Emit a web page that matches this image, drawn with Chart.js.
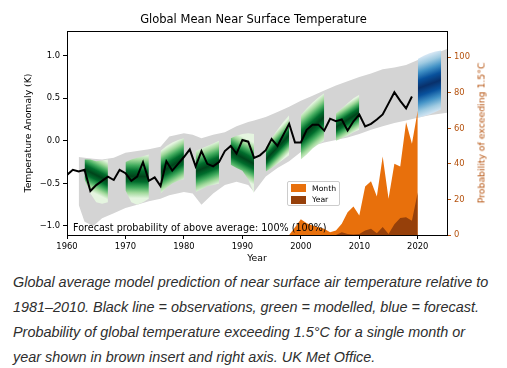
<!DOCTYPE html>
<html>
<head>
<meta charset="utf-8">
<script src="https://cdn.jsdelivr.net/npm/chart.js@4.4.1/dist/chart.umd.min.js"></script>
<style>
body { margin: 0; background: #fff; }
#wrap { position: relative; width: 507px; height: 368px; overflow: hidden; }
#myChart { position: absolute; left: 0; top: 0; }
.txt { position: absolute; font-family: 'DejaVu Sans', sans-serif; white-space: nowrap; }
#fcText { left: 73px; top: 222px; font-size: 9.6px; color: #000; }
#legend { position: absolute; left: 287px; top: 181px; width: 51px; height: 23px;
  border: 1px solid #ccc; border-radius: 2px; background: rgba(255,255,255,0.85); }
#legend .sw { position: absolute; left: 3px; width: 15px; height: 8px; }
#legend .lb { position: absolute; left: 24px; font-family: 'DejaVu Sans', sans-serif; font-size: 7.7px; line-height: 9px; }
#rTitle { left: 481px; top: 133px; font-size: 9.3px; color: #b5520e;
  transform: translate(-50%, -50%) rotate(-90deg); }
#caption { position: absolute; left: 13px; top: 270px; font-family: 'Liberation Sans', Arial, sans-serif;
  font-style: italic; font-size: 14.4px; line-height: 25px; color: #2e2e2e; white-space: nowrap; }
</style>
</head>
<body>
<div id="wrap">
  <canvas id="myChart" width="507" height="266"></canvas>
  <div id="fcText" class="txt">Forecast probability of above average: 100% (100%)</div>
  <div id="legend">
    <div class="sw" style="top:2px;background:#e8700c"></div><div class="lb" style="top:1.5px">Month</div>
    <div class="sw" style="top:13.5px;background:#96400a"></div><div class="lb" style="top:13px">Year</div>
  </div>
  <div id="rTitle" class="txt">Probability of exceeding 1.5°C</div>
  <div id="caption">Global average model prediction of near surface air temperature relative to<br>1981–2010. Black line = observations, green = modelled, blue = forecast.<br>Probability of global temperature exceeding 1.5°C for a single month or<br>year shown in brown insert and right axis. UK Met Office.</div>
</div>
<script>
// observed anomaly (K)
const obsYears = [1960, 1961, 1962, 1963, 1964, 1965, 1966, 1967, 1968, 1969,
  1970, 1971, 1972, 1973, 1974, 1975, 1976, 1977, 1978, 1979,
  1980, 1981, 1982, 1983, 1984, 1985, 1986, 1987, 1988, 1989,
  1990, 1991, 1992, 1993, 1994, 1995, 1996, 1997, 1998, 1999,
  2000, 2001, 2002, 2003, 2004, 2005, 2006, 2007, 2008, 2009,
  2010, 2011, 2012, 2013, 2014, 2015, 2016, 2017, 2018, 2019]
const obsAnom = [-0.40, -0.34, -0.36, -0.34, -0.59, -0.52, -0.47, -0.42, -0.46, -0.34,
  -0.38, -0.47, -0.42, -0.25, -0.47, -0.43, -0.53, -0.24, -0.35, -0.27,
  -0.19, -0.10, -0.30, -0.12, -0.27, -0.30, -0.25, -0.12, -0.06, -0.15,
  0.01, -0.01, -0.20, -0.17, -0.11, 0.02, -0.06, 0.07, 0.20, -0.02,
  -0.02, 0.13, 0.19, 0.19, 0.12, 0.26, 0.23, 0.25, 0.12, 0.23,
  0.31, 0.17, 0.20, 0.25, 0.31, 0.44, 0.57, 0.47, 0.38, 0.52]

// grey model plume
const plumeYears = [1962, 1963, 1964.5, 1966, 1968, 1970, 1972, 1974, 1976, 1977.5,
  1980, 1981.5, 1983, 1985, 1987, 1989, 1991, 1992, 1994, 1996,
  1998, 2000, 2002, 2004, 2006, 2008, 2010, 2012, 2014, 2016,
  2018, 2020, 2022, 2025]
const plumeHi = [-0.19, -0.20, -0.21, -0.22, -0.20, -0.14, -0.12, -0.10, -0.07, 0.05,
  0.09, 0.07, 0.03, 0.07, 0.10, 0.17, 0.22, 0.24, 0.28, 0.34,
  0.40, 0.47, 0.53, 0.59, 0.65, 0.70, 0.75, 0.79, 0.84, 0.86,
  0.89, 0.95, 1.00, 1.08]
const plumeLo = [-0.75, -0.95, -1.00, -0.91, -0.85, -0.79, -0.75, -0.71, -0.68, -0.64,
  -0.60, -0.62, -0.75, -0.62, -0.52, -0.48, -0.52, -0.60, -0.42, -0.32,
  -0.24, -0.13, -0.06, -0.02, 0.01, 0.04, 0.08, 0.13, 0.17, 0.21,
  0.24, 0.27, 0.30, 0.33]

// green hindcasts, 5 yearly values each
const hindStart = [1963, 1970, 1976, 1982, 1988, 1994, 2000, 2006]
const hindHi = [
  [-0.22, -0.22, -0.24, -0.23, -0.22],
  [-0.25, -0.22, -0.20, -0.18, -0.16],
  [-0.12, -0.06, -0.02, 0.01, 0.03],
  [-0.12, -0.09, -0.06, -0.03, 0.00],
  [0.03, 0.06, 0.08, 0.09, 0.08],
  [-0.08, 0.03, 0.13, 0.22, 0.30],
  [0.30, 0.38, 0.45, 0.51, 0.56],
  [0.32, 0.38, 0.44, 0.50, 0.54]
]
const hindLo = [
  [-0.45, -0.62, -0.72, -0.74, -0.72],
  [-0.58, -0.72, -0.75, -0.72, -0.68],
  [-0.62, -0.55, -0.50, -0.47, -0.45],
  [-0.60, -0.57, -0.53, -0.52, -0.50],
  [-0.28, -0.32, -0.35, -0.45, -0.62],
  [-0.36, -0.32, -0.27, -0.22, -0.17],
  [-0.22, -0.16, -0.09, -0.04, 0.00],
  [0.00, 0.03, 0.06, 0.10, 0.13]
]

// blue forecast
const fcStart = 2020
const fcHi = [0.96, 1.00, 1.03, 1.05, 1.06]
const fcLo = [0.27, 0.29, 0.31, 0.34, 0.37]

// probability of exceeding 1.5C (%)
const probYears = [1998, 1999, 2000, 2001, 2002, 2003, 2004, 2005, 2006, 2007,
  2008, 2009, 2010, 2011, 2012, 2013, 2014, 2015, 2016, 2017,
  2018, 2019, 2020]
const probMonth = [0, 4.4, 8.8, 6.6, 5.4, 4.4, 3.5, 1.6, 2.5, 6.3,
  12.8, 16, 11, 27.3, 30.3, 21.7, 44.2, 20.4, 40.1, 38.6,
  63.5, 51.4, 70]
const probYear = [0, 0, 0, 0, 0, 0, 0, 0, 0, 1.5,
  0.5, 0.3, 0.5, 2.5, 3.5, 1, 4.5, 0.5, 6, 9.5,
  10, 8, 24]

const leftTicks = [-1.0, -0.5, 0.0, 0.5, 1.0]

const greens = ['#e5f5e0', '#a1d99b', '#41ab5d', '#006d2c', '#00441b', '#006d2c', '#41ab5d', '#a1d99b', '#e5f5e0']
const blues = ['#deebf7', '#9ecae1', '#4292c6', '#08519c', '#08306b', '#08519c', '#4292c6', '#9ecae1', '#deebf7']
const AXIS_COL = '#b5520e'

Chart.defaults.font.family = "'DejaVu Sans', sans-serif"
Chart.defaults.color = '#000'

const pts = (xs, ys) => xs.map((x, i) => ({ x: x, y: ys[i] }))
const yrs = (start, n) => Array.from({ length: n }, (_, i) => start + i)

// gradient across the band, perpendicular to its slope
function fanFill(ctx) {
  const chart = ctx.chart
  if (!chart.chartArea) return 'rgba(0,0,0,0)'
  const ds = ctx.dataset
  const xs = chart.scales.x, ys = chart.scales.y
  const n = ds.hiVals.length - 1
  const x0 = xs.getPixelForValue(ds.start), x1 = xs.getPixelForValue(ds.start + n)
  const m0 = ys.getPixelForValue((ds.hiVals[0] + ds.loVals[0]) / 2)
  const m1 = ys.getPixelForValue((ds.hiVals[n] + ds.loVals[n]) / 2)
  let half = 0
  for (let i = 0; i <= n; i++) {
    half += (ys.getPixelForValue(ds.loVals[i]) - ys.getPixelForValue(ds.hiVals[i])) / 2
  }
  half /= (n + 1)
  const dx = x1 - x0, dy = m1 - m0, len = Math.hypot(dx, dy)
  const nx = -dy / len, ny = dx / len
  const h = half * dx / len * 1.05
  const cx = (x0 + x1) / 2, cy = (m0 + m1) / 2
  const g = chart.ctx.createLinearGradient(cx - nx * h, cy - ny * h, cx + nx * h, cy + ny * h)
  const cols = ds.palette
  cols.forEach((c, i) => g.addColorStop(i / (cols.length - 1), c))
  return g
}

const band = { pointRadius: 0, borderWidth: 0, borderColor: 'rgba(0,0,0,0)', tension: 0 }

const datasets = []
datasets.push({ ...band, data: pts(obsYears, obsAnom), borderColor: '#000', borderWidth: 2, order: 0 })
datasets.push({ ...band, data: pts(probYears, probYear), yAxisID: 'y2', fill: 'origin', backgroundColor: '#96400a', order: 1 })
datasets.push({ ...band, data: pts(probYears, probMonth), yAxisID: 'y2', fill: 'origin', backgroundColor: '#e8700c', order: 2 })

datasets.push({ ...band, data: pts(yrs(fcStart, fcLo.length), fcLo), order: 3 })
datasets.push({ ...band, data: pts(yrs(fcStart, fcHi.length), fcHi), fill: '-1', order: 3,
  start: fcStart, hiVals: fcHi, loVals: fcLo, palette: blues, backgroundColor: fanFill })

hindStart.forEach((s, k) => {
  datasets.push({ ...band, data: pts(yrs(s, hindLo[k].length), hindLo[k]), order: 3 })
  datasets.push({ ...band, data: pts(yrs(s, hindHi[k].length), hindHi[k]), fill: '-1', order: 3,
    start: s, hiVals: hindHi[k], loVals: hindLo[k], palette: greens, backgroundColor: fanFill })
})

datasets.push({ ...band, data: pts(plumeYears, plumeLo), order: 4 })
datasets.push({ ...band, data: pts(plumeYears, plumeHi), fill: '-1', backgroundColor: '#d4d4d4', order: 4 })

const tickFont = { size: 8.4 }
const titleFont = { size: 9.3 }

const myChart = new Chart(document.getElementById('myChart'), {
  type: 'line',
  data: { datasets: datasets },
  options: {
    responsive: false,
    animation: false,
    events: [],
    layout: { padding: 0 },
    plugins: {
      legend: { display: false },
      tooltip: { enabled: false },
      title: {
        display: true,
        text: 'Global Mean Near Surface Temperature',
        font: { size: 11.5, weight: 'normal' },
        color: '#000',
        padding: { top: 13, bottom: 4.2 }
      }
    },
    scales: {
      x: {
        type: 'linear', position: 'bottom', min: 1960, max: 2025,
        grid: { drawOnChartArea: false, drawTicks: true, tickLength: 4, color: '#000' },
        border: { display: true, color: '#000', width: 1 },
        ticks: { stepSize: 10, includeBounds: false, padding: 3, font: tickFont, maxRotation: 0,
          callback: v => String(v) },
        title: { display: true, text: 'Year', font: titleFont, padding: { top: 0, bottom: 1.5 } },
        afterFit: s => { s.height = 31 }
      },
      xTop: {
        type: 'linear', position: 'top', min: 1960, max: 2025,
        grid: { display: false, drawTicks: false },
        border: { display: true, color: '#000', width: 1 },
        ticks: { display: false },
        afterFit: s => { s.height = 0 }
      },
      y: {
        type: 'linear', position: 'left', min: -1.106, max: 1.29,
        grid: { drawOnChartArea: false, drawTicks: true, tickLength: 4, color: '#000' },
        border: { display: true, color: '#000', width: 1 },
        afterBuildTicks: s => { s.ticks = leftTicks.map(v => ({ value: v })) },
        ticks: { padding: 3, font: tickFont,
          callback: v => v.toFixed(1).replace('-', '\u2212') },
        title: { display: true, text: 'Temperature Anomaly (K)', font: titleFont, padding: { top: 23, bottom: 0 } },
        afterFit: s => { s.width = 67 }
      },
      y2: {
        type: 'linear', position: 'right', min: 0, max: 114.8,
        grid: { drawOnChartArea: false, drawTicks: true, tickLength: 4, color: AXIS_COL },
        border: { display: true, color: '#000', width: 1 },
        ticks: { stepSize: 20, includeBounds: false, padding: 3, font: tickFont, color: AXIS_COL },
        afterFit: s => { s.width = 60 }
      }
    }
  }
})
</script>
</body>
</html>
